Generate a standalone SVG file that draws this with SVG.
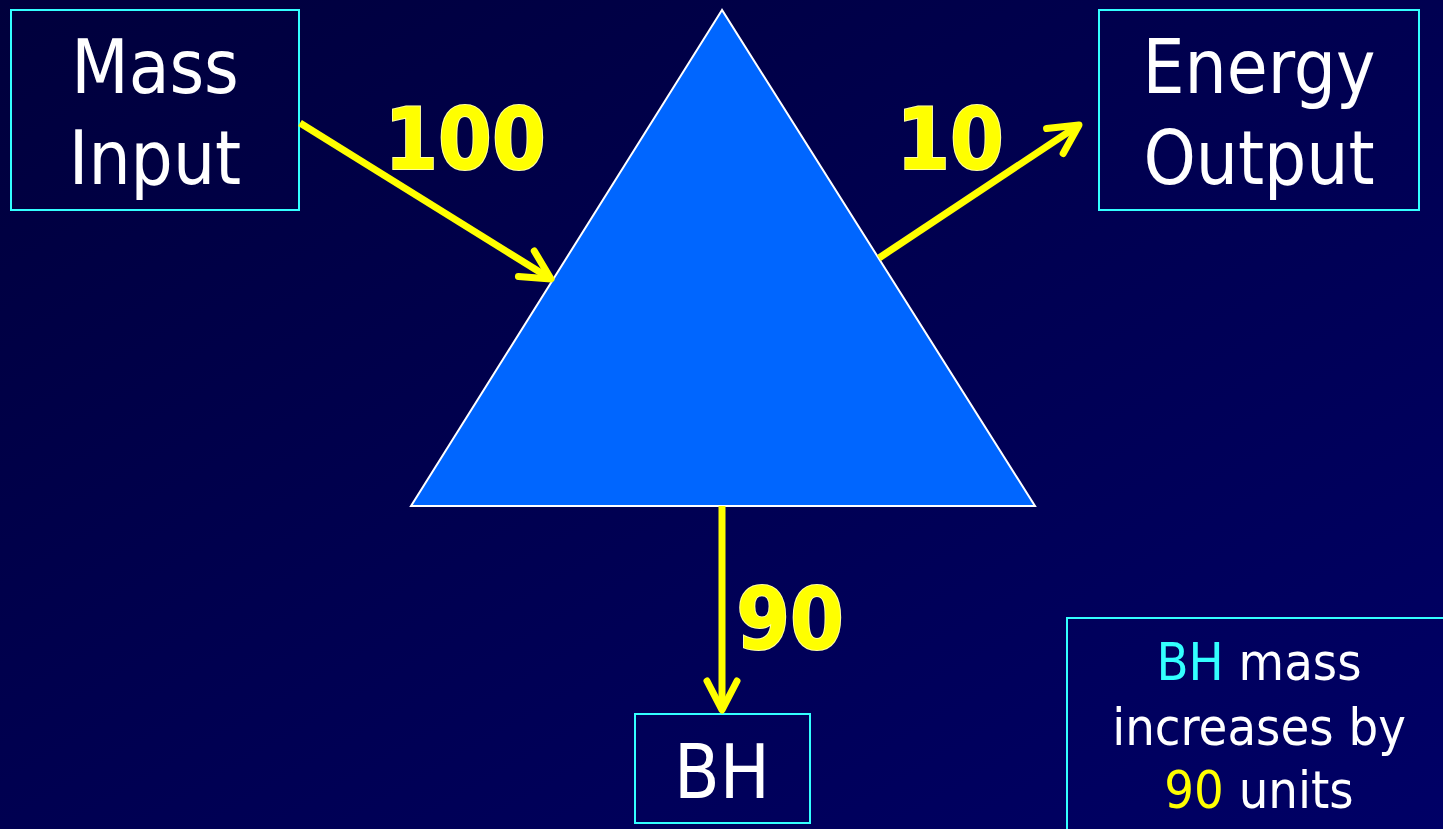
<svg xmlns="http://www.w3.org/2000/svg" width="1443" height="829" viewBox="0 0 1443 829">
<defs>
<linearGradient id="bg" x1="0" y1="0" x2="1" y2="1">
<stop offset="0" stop-color="#00003c"/>
<stop offset="1" stop-color="#000066"/>
</linearGradient>
<marker id="ah" markerUnits="userSpaceOnUse" markerWidth="50" markerHeight="50" viewBox="-40 -25 50 50" refX="0" refY="0" orient="auto">
<path d="M-29,-15 L0,0 L-29,15" fill="none" stroke="#ffff00" stroke-width="7" stroke-linecap="round" stroke-linejoin="round"/>
</marker>
<style>
.box{fill:none;stroke:#33ffff;stroke-width:2}
.lbl{font-family:"DejaVu Sans Condensed","DejaVu Sans",sans-serif;font-stretch:condensed;fill:#ffffff;text-anchor:middle}
.big{font-size:74px}
.note{font-size:52px}
.num{font-family:"DejaVu Sans Condensed","DejaVu Sans",sans-serif;font-stretch:condensed;font-weight:bold;font-size:86px;fill:#ffff00;stroke:#ffffa0;stroke-width:2;paint-order:stroke}
.conn{stroke:#ffff00;stroke-width:7;fill:none;marker-end:url(#ah)}
</style>
</defs>
<rect width="1443" height="829" fill="url(#bg)"/>
<g id="triangle">
<polygon points="722,10 411,506 1035,506" fill="#0066ff" stroke="#ffffff" stroke-width="2"/>
</g>
<g id="mass-input">
<rect class="box" x="11" y="10" width="288" height="200"/>
<text class="lbl big" x="155" y="93">Mass</text>
<text class="lbl big" x="155" y="184">Input</text>
</g>
<g id="energy-output">
<rect class="box" x="1099" y="10" width="320" height="200"/>
<text class="lbl big" x="1259" y="93">Energy</text>
<text class="lbl big" x="1259" y="184">Output</text>
</g>
<g id="bh">
<rect class="box" x="635" y="714" width="175" height="109"/>
<text class="lbl big" x="722" y="798">BH</text>
</g>
<g id="note">
<rect class="box" x="1067" y="618" width="400" height="250"/>
<text class="lbl note" x="1259" y="680"><tspan fill="#33ffff">BH</tspan> mass</text>
<text class="lbl note" x="1259" y="745">increases by</text>
<text class="lbl note" x="1259" y="808"><tspan fill="#ffff00">90</tspan> units</text>
</g>
<g id="connectors">
<line class="conn" x1="300" y1="123" x2="551" y2="279"/>
<line class="conn" x1="879" y1="258" x2="1079" y2="125"/>
<line class="conn" x1="722" y1="506" x2="722" y2="710"/>
</g>
<g id="labels">
<text class="num" x="465" y="169" text-anchor="middle">100</text>
<text class="num" x="950" y="169" text-anchor="middle">10</text>
<text class="num" x="790" y="649" text-anchor="middle">90</text>
</g>
</svg>
